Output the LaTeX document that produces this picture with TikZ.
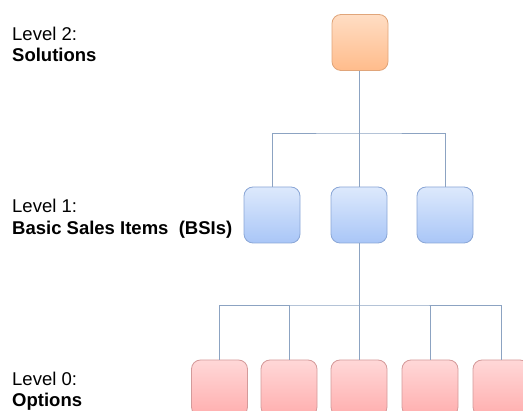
\documentclass[tikz,border=0pt]{standalone}
\usepackage{fontspec}
\setmainfont{Liberation Sans}
\definecolor{linec}{HTML}{8CA3C2}
\definecolor{orTop}{HTML}{FFDDC4}
\definecolor{orBot}{HTML}{FFBC8C}
\definecolor{orEdge}{HTML}{E0A57A}
\definecolor{blTop}{HTML}{DDE9FC}
\definecolor{blBot}{HTML}{A9C6F7}
\definecolor{blEdge}{HTML}{8AA6D6}
\definecolor{rdTop}{HTML}{FFD8D8}
\definecolor{rdBot}{HTML}{FFAEAE}
\definecolor{rdEdge}{HTML}{D49A9A}
\begin{document}
\begin{tikzpicture}[x=1pt,y=-1pt,
  itembox/.style={rectangle, rounded corners=9pt, minimum width=56pt,
    minimum height=56pt, inner sep=0pt, line width=0.8pt},
  solbox/.style={itembox, draw=orEdge, top color=orTop, bottom color=orBot},
  bsibox/.style={itembox, draw=blEdge, top color=blTop, bottom color=blBot},
  optbox/.style={itembox, draw=rdEdge, top color=rdTop, bottom color=rdBot},
  conn/.style={draw=linec, line width=0.9pt},
  lvl/.style={anchor=base west, inner sep=0pt, font=\fontsize{18.5}{21.5}\selectfont},
  lvlname/.style={lvl, font=\fontsize{18.5}{21.5}\selectfont\bfseries}]
\useasboundingbox (0,0) rectangle (523,411);
\clip (0,0) rectangle (523,411);

% level labels
\node[lvl] (l2a) at (12,40.7) {Level 2:};
\node[lvlname] (l2b) at (12,62) {Solutions};
\node[lvl] (l1a) at (12,212.5) {Level 1:};
\node[lvlname] (l1b) at (12,234.5) {Basic Sales Items\ \ (BSIs)};
\node[lvl] (l0a) at (12,385.7) {Level 0:};
\node[lvlname] (l0b) at (12,407) {Options};

% boxes
\node[solbox] (sol) at (360,42.5) {};
\node[bsibox] (bsi1) at (272,215) {};
\node[bsibox] (bsi2) at (359,215) {};
\node[bsibox] (bsi3) at (445,215) {};
\node[optbox] (opt1) at (219.5,388) {};
\node[optbox] (opt2) at (289,388) {};
\node[optbox] (opt3) at (359,388) {};
\node[optbox] (opt4) at (430,388) {};
\node[optbox] (opt5) at (501,388) {};

% tree connectors
\coordinate (j1) at (359,133);
\coordinate (j0) at (359,305);
\draw[conn] (sol.south -| j1) -- (j1);
\draw[conn] (bsi1.north) |- (j1) -| (bsi3.north);
\draw[conn] (bsi2.north) -- (j1);
\draw[conn] (bsi2.south) -- (j0);
\draw[conn] (opt1.north) |- (j0) -| (opt5.north);
\draw[conn] (opt2.north) -- (opt2.north |- j0);
\draw[conn] (opt3.north) -- (j0);
\draw[conn] (opt4.north) -- (opt4.north |- j0);
\end{tikzpicture}
\end{document}
